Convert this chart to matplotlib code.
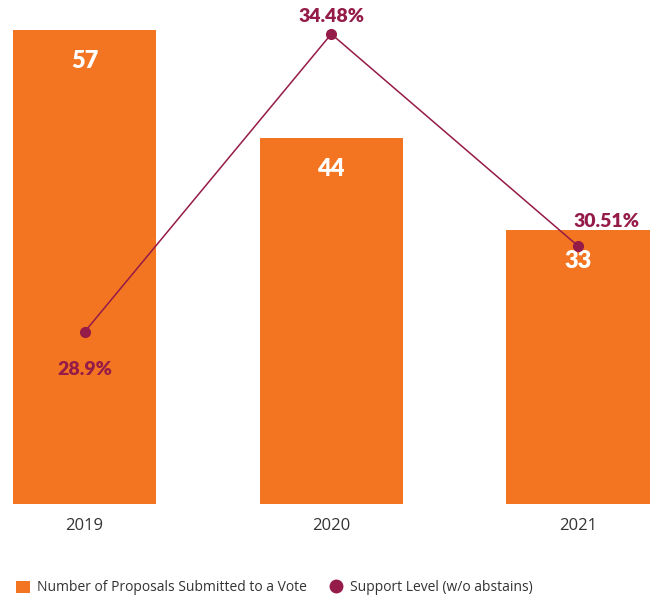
import matplotlib
matplotlib.use("Agg")
import matplotlib.pyplot as plt
from matplotlib.patches import Patch
from matplotlib.lines import Line2D

years = ["2019", "2020", "2021"]
proposals = [57, 44, 33]
support = [28.9, 34.48, 30.51]
support_labels = ["28.9%", "34.48%", "30.51%"]

ORANGE = "#F37522"
WINE = "#951B48"

fig = plt.figure(figsize=(6.58, 5.97), dpi=100)
W, H = 658, 597
ax = fig.add_axes([0, 93 / H, 1, 499 / H])
x = list(range(len(years)))

ax.bar(x, proposals, width=0.58, color=ORANGE, zorder=1)
ax.set_xlim(-0.3425, 2.324)
ax.set_ylim(0, 60)
for xi, v in zip(x, proposals):
    ax.annotate(str(v), (xi, v), xytext=(0, -31), textcoords="offset pixels",
                ha="center", va="center", color="white", fontsize=17,
                fontweight="heavy", family="Lato")

ax.set_xticks(x)
ax.set_xticklabels(years, fontsize=12, color="#333333", family="Open Sans")
ax.tick_params(axis="x", length=0, pad=10)
ax.set_yticks([])
for s in ax.spines.values():
    s.set_visible(False)

ax2 = ax.twinx()
ax2.plot(x, support, color=WINE, lw=1.1, marker="o", markersize=7, zorder=3)
ax2.set_ylim(25.679, 35.023)
ax2.set_yticks([])
for s in ax2.spines.values():
    s.set_visible(False)

offsets = [(0, -38), (0, 17), (28, 25)]
for xi, v, lab, off in zip(x, support, support_labels, offsets):
    ax2.annotate(lab, (xi, v), xytext=off, textcoords="offset pixels",
                 ha="center", va="center", color=WINE, fontsize=14,
                 fontweight="heavy", family="Lato")

handles = [
    Patch(facecolor=ORANGE, edgecolor="none"),
    Line2D([], [], color=WINE, marker="o", linestyle="none", markersize=9),
]
labels = ["Number of Proposals Submitted to a Vote", "Support Level (w/o abstains)"]
fig.legend(handles, labels, loc="lower left", bbox_to_anchor=(0.005, -0.0184),
           ncol=2, frameon=False, handlelength=1.0, handleheight=1.0,
           handletextpad=0.5, columnspacing=1.6,
           prop={"family": "Open Sans", "size": 10})
for t in fig.legends[0].get_texts():
    t.set_color("#333333")

fig.savefig("out.png", dpi=100)
